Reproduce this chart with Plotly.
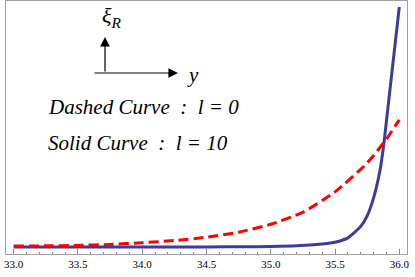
import plotly.graph_objects as go

# Dashed curve (l = 0)
x_dashed = [33.0, 33.25, 33.5, 33.75, 34.0, 34.25, 34.5, 34.75, 35.0, 35.25, 35.5, 35.75, 35.9, 36.0]
y_dashed = [0.004, 0.005, 0.007, 0.011, 0.018, 0.027, 0.041, 0.062, 0.095, 0.145, 0.23, 0.35, 0.45, 0.53]

# Solid curve (l = 10)
x_solid = [33.0, 33.5, 34.0, 34.5, 34.8, 35.0, 35.2, 35.4, 35.5, 35.6, 35.7,
           35.75, 35.8, 35.85, 35.88, 35.9, 35.92, 35.94, 35.96, 35.98, 36.0]
y_solid = [0.0, 0.0, 0.0, 0.0005, 0.001, 0.002, 0.005, 0.013, 0.02, 0.038, 0.086,
           0.13, 0.205, 0.32, 0.43, 0.525, 0.62, 0.715, 0.81, 0.905, 1.0]

x_ticks = [33.0, 33.5, 34.0, 34.5, 35.0, 35.5, 36.0]
x_tick_labels = ["33.0", "33.5", "34.0", "34.5", "35.0", "35.5", "36.0"]

fig = go.Figure()
fig.add_trace(go.Scatter(x=x_solid, y=y_solid, mode="lines",
                         line=dict(color="#3d3d99", width=3, shape="spline", smoothing=0.5),
                         showlegend=False, hoverinfo="skip"))
fig.add_trace(go.Scatter(x=x_dashed, y=y_dashed, mode="lines",
                         line=dict(color="#ff0000", width=3, dash="10px,5px", shape="spline", smoothing=0.6),
                         showlegend=False, hoverinfo="skip"))

W, H = 415, 277
L, R, T, B = 6, 8, 1, 23
pw, ph = W - L - R, H - T - B

def px(x):
    return (x - L) / pw

def py(y):
    return (H - B - y) / ph

serif = "Times New Roman, Liberation Serif, serif"
annots = [
    dict(x=px(105), y=py(37), ax=0, ay=36, showarrow=True, arrowhead=2, arrowsize=1.6,
         arrowwidth=1.2, arrowcolor="black", text=""),
    dict(x=px(178), y=py(73), ax=-85, ay=0, showarrow=True, arrowhead=2, arrowsize=1.6,
         arrowwidth=1.2, arrowcolor="black", text=""),
    dict(x=px(100), y=py(17), text="<i>ξ</i><sub><i>R</i></sub>", showarrow=False,
         xanchor="left", yanchor="middle", font=dict(family=serif, size=22, color="black")),
    dict(x=px(185), y=py(75), text="<i>y</i>", showarrow=False,
         xanchor="left", yanchor="middle", font=dict(family=serif, size=21, color="black")),
    dict(x=px(46), y=py(107), text="<i>Dashed Curve  :  l = 0</i>", showarrow=False,
         xanchor="left", yanchor="middle", font=dict(family=serif, size=21, color="black")),
    dict(x=px(46), y=py(143), text="<i>Solid Curve  :  l = 10</i>", showarrow=False,
         xanchor="left", yanchor="middle", font=dict(family=serif, size=21, color="black")),
]
for a in annots:
    a["xref"] = "paper"
    a["yref"] = "paper"

fig.update_layout(
    width=W, height=H,
    margin=dict(l=L, r=R, t=T, b=B, autoexpand=False),
    paper_bgcolor="white", plot_bgcolor="white",
    font=dict(family=serif),
    annotations=annots,
    xaxis=dict(range=[32.94, 36.06], tickvals=x_ticks, ticktext=x_tick_labels,
               automargin=False,
               ticks="inside", ticklen=5, tickwidth=1, tickcolor="#888888",
               showline=True, linecolor="#a0a0a0", linewidth=1, mirror=True,
               showgrid=False, zeroline=False,
               tickfont=dict(family=serif, size=11, color="black"),
               minor=dict(dtick=0.1, ticks="inside", ticklen=2.5, tickcolor="#888888", showgrid=False)),
    yaxis=dict(range=[-0.029, 1.025], showticklabels=False, ticks="", automargin=False,
               showline=True, linecolor="#a0a0a0", linewidth=1, mirror=True,
               showgrid=False, zeroline=False),
)

fig.write_html("out.html", config={"displayModeBar": False},
               post_script="document.body.style.margin='0px';")
